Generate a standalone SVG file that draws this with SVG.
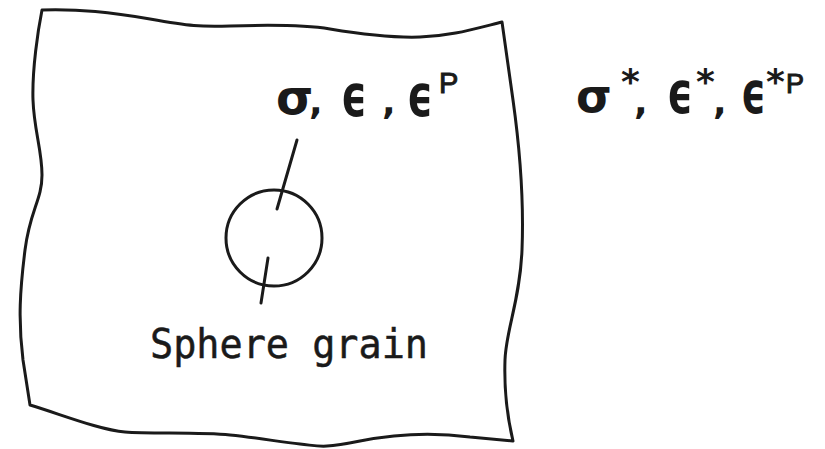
<svg xmlns="http://www.w3.org/2000/svg" width="825" height="449" viewBox="0 0 825 449">
<style>
.ln{fill:none;stroke:#1a1a1a;stroke-width:3;stroke-linejoin:round;stroke-linecap:round}
.gk{font-family:"DejaVu Sans",sans-serif;font-weight:bold;fill:#1a1a1a}
.sup{font-family:"Liberation Sans",sans-serif;fill:#1a1a1a;stroke:#1a1a1a;stroke-width:1}
.lbl{font-family:"DejaVu Sans Mono","Liberation Mono",monospace;fill:#1a1a1a;stroke:#1a1a1a;stroke-width:0.5}
</style>
<g id="plate">
<path class="ln" d="M42,10 C80,9 110,12 150,19 S200,27 230,26 S300,24 330,29 S390,38 420,37 S470,30 502,22 L513,100 C520,150 524,200 522,250 S506,330 505,360 S508,420 513,441 L470,437 C440,433 400,433 360,441 S320,446 300,444 S260,438 230,435 S150,434 125,432 S60,414 30,405 L23,360 C18,320 20,290 25,250 S42,200 42,175 S34,130 33,100 S38,30 42,10 Z"/>
</g>
<g id="grain">
<circle class="ln" cx="274" cy="238" r="48"/>
</g>
<g id="connectors">
<line class="ln" x1="297" y1="140" x2="277" y2="209"/>
<line class="ln" x1="268" y1="258" x2="261" y2="303"/>
</g>
<g id="local-label">
<text class="gk" font-size="48" x="276" y="114">σ</text>
<text class="gk" font-size="36" x="309" y="114">,</text>
<text class="gk" font-size="58" x="341" y="116" textLength="26" lengthAdjust="spacingAndGlyphs">ϵ</text>
<text class="gk" font-size="36" x="382" y="114">,</text>
<text class="gk" font-size="58" x="407" y="116" textLength="26" lengthAdjust="spacingAndGlyphs">ϵ</text>
<text class="sup" font-size="29" x="439" y="93">P</text>
</g>
<g id="global-label">
<text class="gk" font-size="46" x="576" y="112">σ</text>
<text class="gk" font-size="36" x="621" y="94">*</text>
<text class="gk" font-size="36" x="634" y="114">,</text>
<text class="gk" font-size="58" x="667" y="113" textLength="26" lengthAdjust="spacingAndGlyphs">ϵ</text>
<text class="gk" font-size="36" x="696" y="94">*</text>
<text class="gk" font-size="36" x="713" y="114">,</text>
<text class="gk" font-size="58" x="741" y="113" textLength="25" lengthAdjust="spacingAndGlyphs">ϵ</text>
<text class="gk" font-size="36" x="766" y="94">*</text>
<text class="sup" font-size="27" x="786" y="93">P</text>
</g>
<g id="sphere-label">
<text class="lbl" font-size="40" x="150" y="358" textLength="278" lengthAdjust="spacingAndGlyphs">Sphere grain</text>
</g>
</svg>
